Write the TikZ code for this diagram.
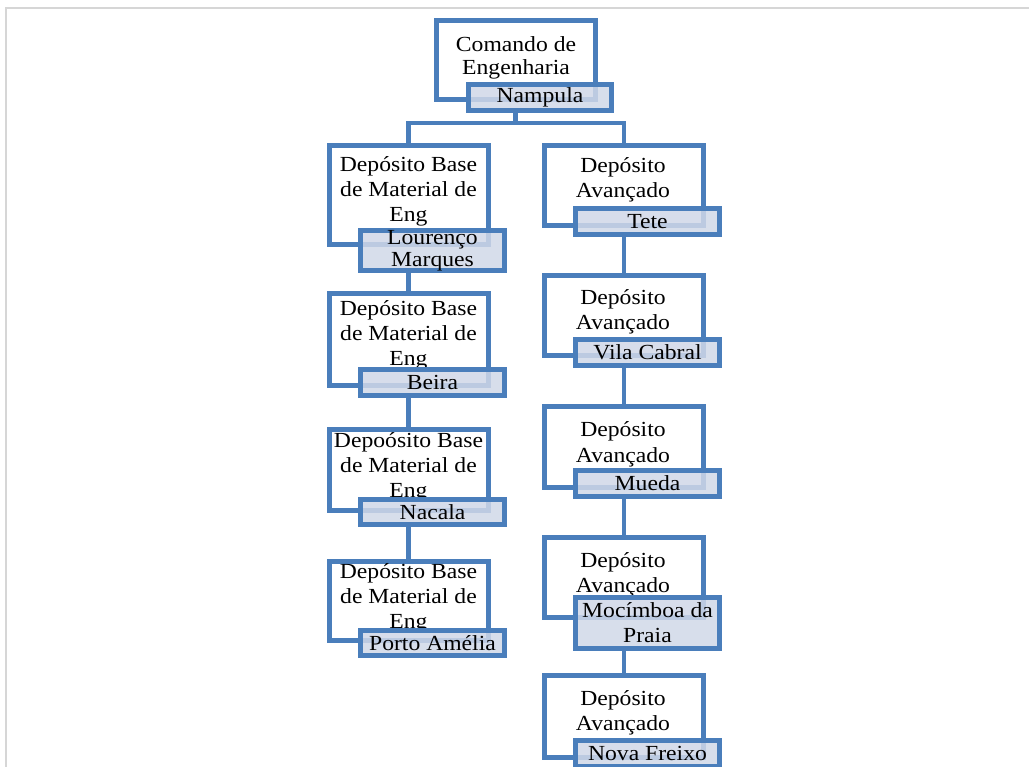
\documentclass[tikz,border=0pt]{standalone}
\usepackage{fontspec}
\setmainfont{Liberation Serif}[FakeStretch=1.1]
\usepackage{tikz}
\usetikzlibrary{positioning}
\definecolor{ebox}{HTML}{4A7EBB}
\definecolor{elabel}{HTML}{D0D8E8}
\definecolor{eframe}{HTML}{D6D6D6}
\tikzset{
  depot/.style={rectangle, draw=ebox, line width=5pt, fill=white, inner sep=0pt, minimum width=159pt},
  deptext/.style={anchor=base, align=center, inner sep=0pt, font=\fontsize{21.5}{25}\selectfont},
  place/.style={rectangle, draw=ebox, line width=5pt, fill=elabel, fill opacity=0.85, text opacity=1,
                inner sep=0pt, minimum width=144pt, minimum height=26pt, align=center,
                font=\fontsize{21.5}{25}\selectfont},
  link/.style={draw=ebox, line width=4.8pt},
  frame/.style={draw=eframe, line width=1.5pt},
}

\begin{document}
\begin{tikzpicture}[x=1pt, y=-1pt]
  \clip (0,0) rectangle (1029,767);
  \draw[frame] (6,767) -- (6,8) -- (1029,8);

  % command
  \node[depot, minimum height=79pt] (box0) at (515.5,60) {};
  \node[deptext, font=\fontsize{21.5}{23}\selectfont] (text0) at (516,75) {Comando de\\Engenharia};
  \node[place, minimum width=143pt] (place0) at (540,97.5) {Nampula};

  % left column
  \node[depot, minimum height=99pt] (box1) at (408.5,195) {};
  \node[deptext] (text1) at (408.5,222) {Depósito Base\\de Material de\\Eng};
  \node[place, minimum height=40pt, font=\fontsize{21.5}{22}\selectfont] (place1) at (432.5,250.5) {Lourenço\\Marques};

  \node[depot, minimum height=92pt] (box2) at (408.5,339.5) {};
  \node[deptext] (text2) at (408.5,366) {Depósito Base\\de Material de\\Eng};
  \node[place] (place2) at (432.5,382.5) {Beira};

  \node[depot, minimum height=81pt] (box3) at (408.5,470) {};
  \node[deptext] (text3) at (408.5,497) {Depoósito Base\\de Material de\\Eng};
  \node[place, minimum height=25pt] (place3) at (432.5,512) {Nacala};

  \node[depot, minimum height=79pt] (box4) at (408.5,601) {};
  \node[deptext] (text4) at (408.5,628) {Depósito Base\\de Material de\\Eng};
  \node[place, minimum height=25pt] (place4) at (432.5,643) {Porto Amélia};

  % right column
  \node[depot, minimum height=80pt] (box5) at (624,185.5) {};
  \node[deptext] (text5) at (623,198) {Depósito\\Avançado};
  \node[place] (place5) at (647.5,221.5) {Tete};

  \node[depot, minimum height=80pt] (box6) at (624,315.5) {};
  \node[deptext] (text6) at (623,330) {Depósito\\Avançado};
  \node[place] (place6) at (647.5,352.5) {Vila Cabral};

  \node[depot, minimum height=81pt] (box7) at (624,447) {};
  \node[deptext] (text7) at (623,462) {Depósito\\Avançado};
  \node[place] (place7) at (647.5,483.5) {Mueda};

  \node[depot, minimum height=80pt] (box8) at (624,577.5) {};
  \node[deptext] (text8) at (623,592) {Depósito\\Avançado};
  \node[place, minimum height=51pt] (place8) at (647.5,623) {Mocímboa da\\Praia};

  \node[depot, minimum height=82pt] (box9) at (624,716.5) {};
  \node[deptext] (text9) at (623,730) {Depósito\\Avançado};
  \node[place] (place9) at (647.5,753.5) {Nova Freixo};

  % connectors
  \coordinate (bar) at (515.5,123);
  \draw[link] (place0.south -| bar) -- (bar);
  \draw[link] (box1.north) |- (bar) -| (box5.north);
  \foreach \a/\b in {1/2,2/3,3/4,5/6,6/7,7/8,8/9}
    \draw[link] (place\a.south -| box\a.south) -- (box\b.north);
\end{tikzpicture}
\end{document}
